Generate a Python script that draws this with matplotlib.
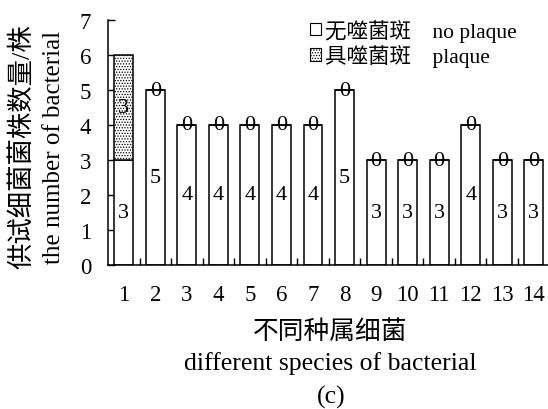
import matplotlib
matplotlib.use("Agg")

import matplotlib.pyplot as plt
import numpy as np
from matplotlib.patches import Patch

plt.rcParams["font.family"] = ["Liberation Serif", "Noto Sans CJK SC"]
plt.rcParams["hatch.linewidth"] = 0.6
plt.rcParams["hatch.color"] = "#444444"

species = [str(i) for i in range(1, 15)]
no_plaque = [3, 5, 4, 4, 4, 4, 4, 5, 3, 3, 3, 4, 3, 3]
plaque = [3, 0, 0, 0, 0, 0, 0, 0, 0, 0, 0, 0, 0, 0]

W, H = 548, 410
fig = plt.figure(figsize=(W / 100, H / 100), dpi=100)
ax = fig.add_axes([108 / W, 1 - 266 / H, 1 - 108 / W, (266 - 21) / H])

x = np.arange(1, len(species) + 1)
width = 0.6
ax.bar(x, no_plaque, width, color="white", edgecolor="black", linewidth=1.1, zorder=2)
ax.bar(x, plaque, width, bottom=no_plaque, color="white", edgecolor="black",
       hatch="......", linewidth=1.1, zorder=2)

for xi, n, p in zip(x, no_plaque, plaque):
    ax.text(xi, n / 2, str(n), ha="center", va="center", fontsize=16)
    ax.text(xi, n + p / 2, str(p), ha="center", va="center", fontsize=16, zorder=3)

ax.set_xlim(0.5, 14.45)
ax.set_ylim(0, 7)
ax.set_yticks(range(0, 8))
ax.set_xticks(x)
ax.set_xticklabels(species)
ax.set_xticks(np.arange(1.5, 14.5, 1), minor=True)
ax.tick_params(axis="x", which="major", length=0, pad=14, labelsize=16.5)
ax.tick_params(axis="x", which="minor", direction="in", length=5, width=1)
ax.tick_params(axis="y", direction="in", length=5, width=1, pad=12, labelsize=16.5)
ax.spines["top"].set_visible(False)
ax.spines["right"].set_visible(False)
for s in ("left", "bottom"):
    ax.spines[s].set_linewidth(1.1)

# axis titles, Chinese line over English line
fig.text(22 / W, 1 - 147 / H, "供试细菌菌株数量/株", rotation=90,
         ha="center", va="center", fontsize=19)
fig.text(54 / W, 1 - 147 / H, "the number of bacterial", rotation=90,
         ha="center", va="center", fontsize=18)
fig.text(330 / W, 1 - 332 / H, "不同种属细菌", ha="center", va="center", fontsize=18.5)
fig.text(330 / W, 1 - 364 / H, "different species of bacterial", ha="center",
         va="center", fontsize=18.5)
fig.text(331 / W, 1 - 397 / H, "(c)", ha="center", va="center", fontsize=18.5)

handles = [
    Patch(facecolor="white", edgecolor="black", linewidth=0.8),
    Patch(facecolor="white", edgecolor="black", hatch="......", linewidth=0.8),
]
ax.legend(handles, ["无噬菌斑    no plaque", "具噬菌斑    plaque"], loc="upper left",
          bbox_to_anchor=(0.44, 1.04), frameon=False, fontsize=15.5,
          handlelength=0.5, handleheight=0.5, handletextpad=0.2, labelspacing=0.12,
          borderaxespad=0)

fig.savefig("out.png", dpi=100)
